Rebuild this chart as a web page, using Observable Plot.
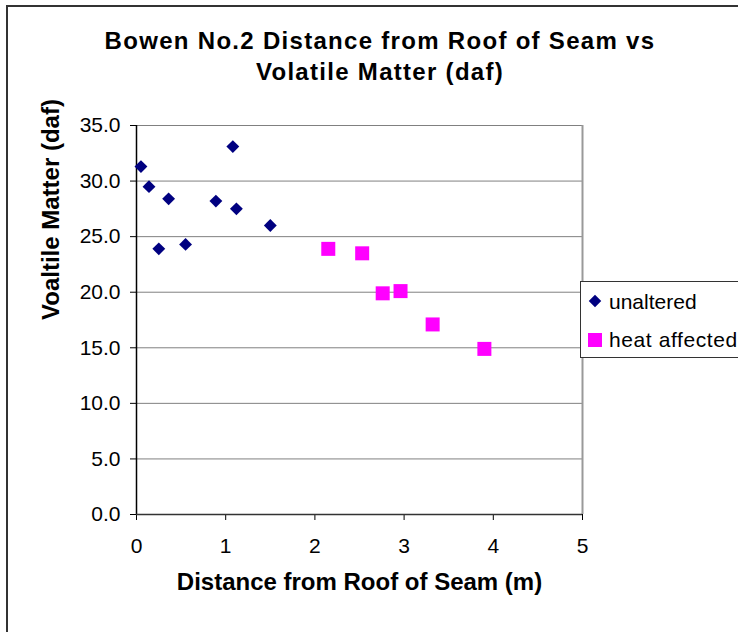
<!DOCTYPE html>
<html>
<head>
<meta charset="utf-8">
<script src="https://cdn.jsdelivr.net/npm/d3@7"></script>
<script src="https://cdn.jsdelivr.net/npm/@observablehq/plot@0.6"></script>
<style>
  html, body { margin: 0; padding: 0; background: #fff; overflow: hidden; }
  #wrap { position: relative; width: 738px; height: 632px; font-family: "Liberation Sans", Arial, sans-serif; }
  #border { position: absolute; left: 6px; top: 5px; width: 800px; height: 700px; border-left: 2px solid #333; border-top: 2px solid #333; box-sizing: border-box; }
  #title { position: absolute; left: 0; width: 760px; top: 25px; text-align: center; font-weight: bold; font-size: 24px; line-height: 31px; letter-spacing: 1.3px; color: #000; }
  #chart { position: absolute; left: 0; top: 0; }
  #legend { position: absolute; left: 580px; top: 281px; width: 200px; height: 77px; border: 1px solid #333; background: #fff; box-sizing: border-box; font-size: 21px; color: #000; }
  .item { position: absolute; left: 0; height: 24px; white-space: nowrap; }
  .item svg { position: absolute; left: 0; top: 0; }
  .item span { position: absolute; left: 28px; top: 0; line-height: 24px; }
</style>
</head>
<body>
<div id="wrap">
  <div id="border"></div>
  <div id="chart"></div>
  <div id="title"></div>
  <div id="legend"></div>
</div>
<script>
// ---- data ----
const titleLines = ["Bowen No.2 Distance from Roof of Seam vs", "Volatile Matter (daf)"];
const xLabel = "Distance from Roof of Seam (m)";
const yLabel = "Voaltile Matter (daf)";
const seriesNames = ["unaltered", "heat affected"];
const seriesColors = ["#000080", "#FF00FF"];

const unalteredX = [0.05, 0.14, 0.25, 0.36, 0.55, 0.89, 1.08, 1.12, 1.50];
const unalteredY = [31.3, 29.5, 23.9, 28.4, 24.3, 28.2, 33.1, 27.5, 26.0];
const heatX = [2.15, 2.53, 2.76, 2.96, 3.32, 3.90];
const heatY = [23.9, 23.5, 19.9, 20.1, 17.1, 14.9];

const xTicks = [0, 1, 2, 3, 4, 5];
const yTicks = [0, 5, 10, 15, 20, 25, 30, 35];

// ---- build ----
const unaltered = unalteredX.map((x, i) => ({x, y: unalteredY[i]}));
const heat = heatX.map((x, i) => ({x, y: heatY[i]}));
const xMax = d3.max(xTicks), yMax = d3.max(yTicks);
const font = "Liberation Sans, Arial, sans-serif";

const chart = Plot.plot({
  width: 738,
  height: 632,
  marginLeft: 136,
  marginRight: 156,
  marginTop: 125,
  marginBottom: 118,
  style: {fontFamily: font, color: "#000", background: "transparent", overflow: "visible"},
  x: {domain: [0, xMax]},
  y: {domain: [0, yMax]},
  marks: [
    Plot.gridY(yTicks.filter(d => d > 0), {stroke: "#808080", strokeOpacity: 1, strokeWidth: 1}),
    Plot.ruleX([xMax], {stroke: "#999", strokeWidth: 2}),
    Plot.axisY({ticks: yTicks, tickFormat: d3.format(".1f"), fontSize: 21, tickSize: 6, tickPadding: 10, label: null, stroke: "#000"}),
    Plot.axisX({ticks: xTicks, tickFormat: d3.format("d"), fontSize: 21, tickSize: 6, tickPadding: 18, label: null, stroke: "#000"}),
    Plot.ruleX([0], {stroke: "#000", strokeWidth: 1.5}),
    Plot.ruleY([0], {stroke: "#333", strokeWidth: 1.5}),
    Plot.dot(unaltered, {x: "x", y: "y", symbol: "diamond2", r: 5.8, fill: seriesColors[0], stroke: "none"}),
    Plot.dot(heat, {x: "x", y: "y", symbol: "square", r: 7.9, fill: seriesColors[1], stroke: "none"}),
    Plot.text([xLabel], {frameAnchor: "bottom", dy: 75, text: d => d, fontSize: 24, fontWeight: "bold", fill: "#000"}),
    Plot.text([yLabel], {frameAnchor: "left", dx: -85, rotate: -90, text: d => d, fontSize: 24, fontWeight: "bold", fill: "#000"})
  ]
});
document.getElementById("chart").appendChild(chart);

const title = document.getElementById("title");
titleLines.forEach(t => { const d = document.createElement("div"); d.textContent = t; title.appendChild(d); });

const legend = document.getElementById("legend");
const tops = [8, 46];
const ns = "http://www.w3.org/2000/svg";
seriesNames.forEach((name, i) => {
  const item = document.createElement("div");
  item.className = "item";
  item.style.top = tops[i] + "px";
  const svg = document.createElementNS(ns, "svg");
  svg.setAttribute("width", 28); svg.setAttribute("height", 24);
  const p = document.createElementNS(ns, "path");
  const sym = i === 0 ? d3.symbol(d3.symbolDiamond2, 100) : d3.symbol(d3.symbolSquare, 196);
  p.setAttribute("d", sym());
  p.setAttribute("transform", i === 0 ? "translate(14,11)" : "translate(14,12)");
  p.setAttribute("fill", seriesColors[i]);
  svg.appendChild(p);
  const s = document.createElement("span");
  s.textContent = name;
  if (i === 1) s.style.letterSpacing = "0.6px";
  item.appendChild(svg); item.appendChild(s);
  legend.appendChild(item);
});
</script>
</body>
</html>
